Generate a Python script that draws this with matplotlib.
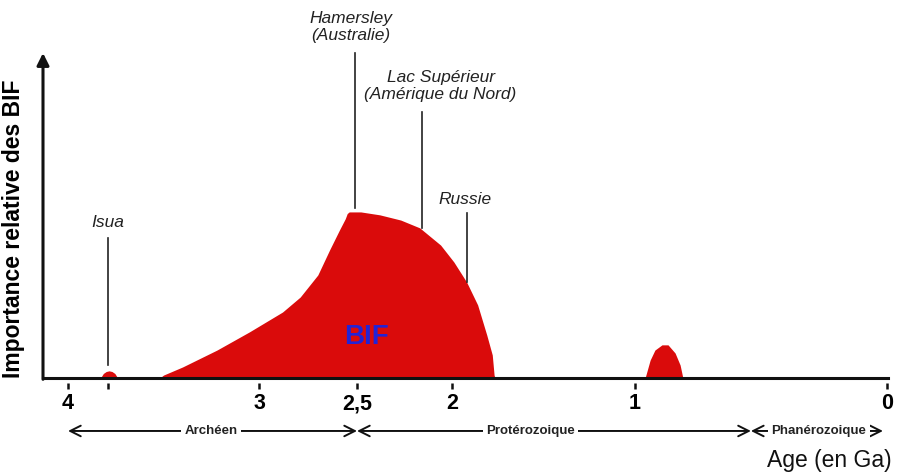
import numpy as np
import matplotlib

matplotlib.use("Agg")
import matplotlib.pyplot as plt
import matplotlib.transforms as mtransforms

plt.rcParams["font.family"] = ["Liberation Sans", "DejaVu Sans"]

# age (Ga) -> horizontal position of the hand-drawn axis (not linear near 0)
axis_ages = [5, 4, 3, 2.5, 2, 1, 0, -1]
axis_pos = [-123, 68, 259, 357, 452, 635, 887, 1139]

# main BIF episode
bif_age = [3.52, 3.50, 3.40, 3.22, 3.05, 2.88, 2.79, 2.70, 2.64, 2.59, 2.56, 2.55, 2.54,
           2.48, 2.38, 2.27, 2.17, 2.06, 1.99, 1.92, 1.86, 1.81, 1.78, 1.77, 1.765]
bif_val = [0, 0.9, 3.4, 8.6, 14.2, 20.3, 24.9, 31.7, 39.4, 45.5, 49.0, 50.6, 51.1,
           51.1, 50.2, 48.6, 46.2, 40.9, 35.7, 29.5, 22.5, 13.2, 7.1, 0.9, 0]

# Isua
isua_age = [3.83, 3.815, 3.80, 3.785, 3.77, 3.755, 3.74]
isua_val = [0, 1.4, 2.0, 2.2, 2.0, 1.4, 0]

# Neoproterozoic resurgence
neo_age = [0.96, 0.94, 0.921, 0.893, 0.869, 0.841, 0.821, 0.81]
neo_val = [0, 5.5, 8.6, 10.2, 10.2, 7.7, 4.0, 0]

tick_ages = [4, 3.79, 3, 2.5, 2, 1, 0]
tick_labels = ["4", "", "3", "2,5", "2", "1", "0"]

# (label, text_x, text_y, line_x, line_top, line_bottom)
sites = [
    ("Isua", 3.79, 47.7, 3.79, 43.1, 4.0),
    ("Hamersley\n(Australie)", 2.53, 108.0, 2.51, 100.0, 52.3),
    ("Lac Supérieur\n(Amérique du Nord)", 2.06, 89.8, 2.16, 81.8, 46.2),
    ("Russie", 1.93, 54.8, 1.92, 50.8, 29.5),
]

eras = [("Archéen", 4.0, 2.5, 3.25), ("Protérozoique", 2.5, 0.54, 1.57),
        ("Phanérozoique", 0.54, 0.016, 0.27)]

red = "#da0b0b"


def fwd(a):
    return np.interp(a, axis_ages[::-1], axis_pos[::-1])


def inv(p):
    return np.interp(p, axis_pos, axis_ages)


fig = plt.figure(figsize=(9.02, 4.76), dpi=100)
ax = fig.add_axes([43 / 902, 1 - 378 / 476, 845 / 902, 325 / 476])
ax.set_xscale("function", functions=(fwd, inv))
ax.set_xlim(-0.004, 4.131)
ax.set_ylim(0, 100)

ax.fill_between(bif_age, bif_val, color=red, lw=0)
ax.fill_between(isua_age, isua_val, color=red, lw=0)
ax.fill_between(neo_age, neo_val, color=red, lw=0)

ax.text(2.45, 12.6, "BIF", color="#2323d6", fontsize=20, fontweight="bold",
        ha="center", va="center")

for label, tx, ty, lx, y0, y1 in sites:
    ax.plot([lx, lx], [y0, y1], color="#222222", lw=1.2, clip_on=False)
    ax.text(tx, ty, label, ha="center", va="center", fontsize=12.5,
            style="italic", color="#222222", clip_on=False, linespacing=1.15)

for s in ["top", "right", "left"]:
    ax.spines[s].set_visible(False)
ax.spines["bottom"].set_linewidth(2.2)
ax.spines["bottom"].set_color("#111111")
ax.annotate("", xy=(0, 1.0), xytext=(0, -0.004), xycoords="axes fraction",
            arrowprops=dict(arrowstyle="-|>", lw=2.2, color="#111111",
                            mutation_scale=18, shrinkA=0, shrinkB=0))

ax.set_yticks([])
ax.set_xticks(tick_ages)
ax.set_xticklabels(tick_labels, fontsize=15.5, fontweight="bold")
ax.xaxis.set_minor_locator(matplotlib.ticker.NullLocator())
ax.tick_params(axis="x", length=0, pad=11)
tick_tr = mtransforms.offset_copy(ax.get_xaxis_transform(), fig, y=-7.5, units="dots")
ax.plot(tick_ages, [0] * len(tick_ages), ls="none", marker="|", ms=4, mew=1.8,
        color="#111111", transform=tick_tr, clip_on=False)

era_tr = ax.get_xaxis_transform()
for name, a0, a1, amid in eras:
    ax.annotate("", xy=(a0, -0.163), xytext=(a1, -0.163), xycoords=era_tr,
                textcoords=era_tr,
                arrowprops=dict(arrowstyle="<->", lw=1.4, color="#111111",
                                mutation_scale=19, shrinkA=0, shrinkB=0))
    ax.text(amid, -0.163, name, transform=era_tr, ha="center", va="center",
            fontsize=9.5, fontweight="bold", color="#222222",
            bbox=dict(boxstyle="square,pad=0.25", fc="white", ec="none"))

ax.set_ylabel("Importance relative des BIF", fontsize=16.5, fontweight="bold")
ax.yaxis.set_label_coords(-18 / 845, 0.46)
fig.text(892 / 902, 1 - 461 / 476, "Age (en Ga)", ha="right", va="center",
         fontsize=16.5, color="#111111")

fig.savefig("out.png", dpi=100, facecolor="white")
